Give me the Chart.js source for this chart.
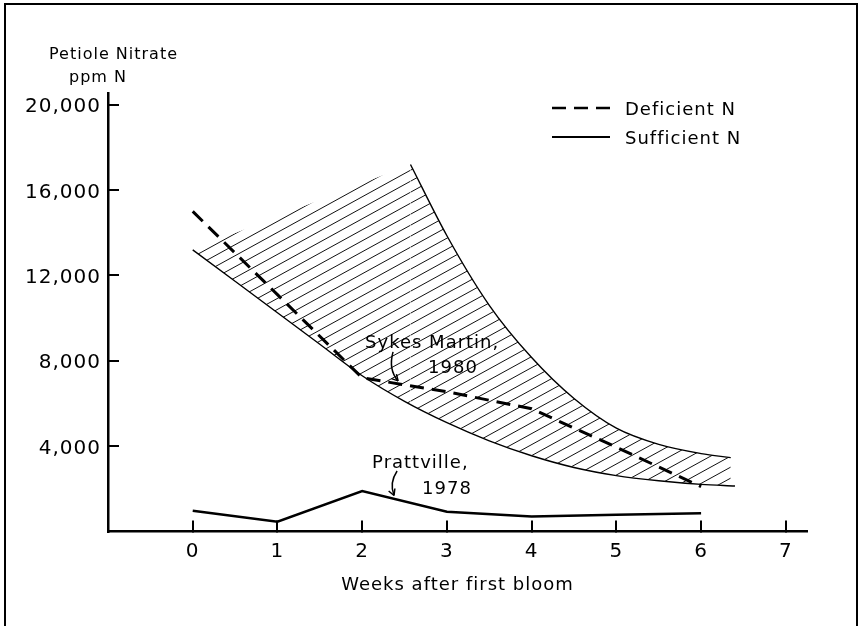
<!DOCTYPE html>
<html>
<head>
<meta charset="utf-8">
<script src="https://cdn.jsdelivr.net/npm/chart.js@4.4.1/dist/chart.umd.min.js"></script>
<style>
  html, body { margin: 0; padding: 0; background: #fff; }
  #wrap { width: 861px; height: 626px; position: relative; }
</style>
</head>
<body>
<div id="wrap"><canvas id="chart"></canvas></div>
<script>
// weeks after first bloom
const weeks = [0, 1, 2, 3, 4, 5, 6];
const deficientN = [15000, 11100, 7200, 6550, 5750, 3950, 2100];  // Sykes Martin, 1980
const sufficientN = [970, 460, 1900, 930, 700, 790, 850];         // Prattville, 1978

// hatched band
const bandLowWeeks = [0, 0.5, 1, 1.5, 2, 2.5, 3, 3.5, 4, 4.5, 5, 5.5, 6, 6.4];
const bandLowPpm = [13200, 11725, 10250, 8775, 7300, 6100, 5100, 4250, 3550, 3000, 2620, 2380, 2210, 2130];
const bandHighWeeks = [2.57, 3, 3.5, 4, 4.5, 5, 5.5, 6, 6.35];
const bandHighPpm = [17200, 13860, 10600, 8150, 6230, 4840, 4080, 3650, 3460];
const bandEdgeWeeks = [0, 2.57];
const bandEdgePpm = [13200, 17200];

const xTicks = [0, 1, 2, 3, 4, 5, 6, 7];
const yTicks = [4000, 8000, 12000, 16000, 20000];
const yTickLabels = ["4,000", "8,000", "12,000", "16,000", "20,000"];

const notes = [
  { text: "Sykes Martin,", week: 2.034, ppm: 8605 },
  { text: "1980", week: 2.778, ppm: 7447 },
  { text: "Prattville,", week: 2.117, ppm: 2964 },
  { text: "1978", week: 2.707, ppm: 1758 }
];
// start, bend, tip
const arrows = [
  [[2.364, 8417], [2.306, 7573], [2.424, 7057]],
  [[2.412, 2837], [2.317, 2274], [2.376, 1688]]
];

const pts = (xs, ys) => xs.map((x, i) => ({ x: x, y: ys[i] }));

function hatch(){
  const c = document.createElement("canvas");
  c.width = 20; c.height = 11;
  const g = c.getContext("2d");
  g.strokeStyle = "#111";
  g.lineWidth = 1;
  g.beginPath();
  [-1, 0, 1].forEach(k => { g.moveTo(-2, 11 + 1.1 + k * 11); g.lineTo(22, -1.1 + k * 11); });
  g.stroke();
  return g.createPattern(c, "repeat");
}

Chart.defaults.font.family = "'DejaVu Sans', sans-serif";
Chart.defaults.color = "#000";

/* frame + spacing of the lettering */
const framePlugin = {
  id: "frame",
  beforeDraw(chart){
    const ctx = chart.ctx;
    ctx.save();
    ctx.fillStyle = "#fff";
    ctx.fillRect(0, 0, chart.width, chart.height);
    ctx.strokeStyle = "#000";
    ctx.lineWidth = 2;
    ctx.beginPath();
    ctx.moveTo(5, chart.height + 5);
    ctx.lineTo(5, 4);
    ctx.lineTo(857, 4);
    ctx.lineTo(857, chart.height + 5);
    ctx.stroke();
    ctx.restore();
    ctx.letterSpacing = "1px";
  }
};

/* axis caption, legend, labels with arrows */
const notesPlugin = {
  id: "notes",
  afterDraw(chart){
    const ctx = chart.ctx;
    const xs = chart.scales.x, ys = chart.scales.y;
    const top = chart.chartArea.top;
    ctx.save();
    ctx.fillStyle = "#000";
    ctx.textAlign = "left";
    ctx.textBaseline = "alphabetic";

    ctx.font = "16px 'DejaVu Sans'";
    ctx.fillText("Petiole Nitrate", 49, top - 34);
    ctx.fillText("ppm N", 69, top - 11);

    // legend
    ctx.font = "18px 'DejaVu Sans'";
    chart.data.datasets.filter(d => d.inLegend).forEach((d, n) => {
      const y = 108 + n * 29;
      ctx.save();
      ctx.strokeStyle = d.borderColor;
      ctx.lineWidth = d.borderWidth - 0.5;
      ctx.setLineDash(d.borderDash || []);
      ctx.beginPath();
      ctx.moveTo(552, y);
      ctx.lineTo(610, y);
      ctx.stroke();
      ctx.restore();
      ctx.fillText(d.label, 625, y + 7);
    });

    notes.forEach(n => {
      ctx.fillText(n.text, xs.getPixelForValue(n.week), ys.getPixelForValue(n.ppm));
    });

    ctx.strokeStyle = "#000";
    ctx.lineWidth = 1.5;
    arrows.forEach(a => {
      const p = a.map(q => [xs.getPixelForValue(q[0]), ys.getPixelForValue(q[1])]);
      ctx.beginPath();
      ctx.moveTo(p[0][0], p[0][1]);
      ctx.quadraticCurveTo(p[1][0], p[1][1], p[2][0], p[2][1]);
      ctx.stroke();
      const ang = Math.atan2(p[2][1] - p[1][1], p[2][0] - p[1][0]);
      ctx.beginPath();
      [-0.5, 0.5].forEach(s => {
        ctx.moveTo(p[2][0], p[2][1]);
        ctx.lineTo(p[2][0] - 7 * Math.cos(ang + s), p[2][1] - 7 * Math.sin(ang + s));
      });
      ctx.stroke();
    });
    ctx.restore();
  }
};

const pattern = hatch();
const axisGrid = { drawOnChartArea: false, drawTicks: true, tickLength: -11, lineWidth: 2, color: "#000" };
const axisBorder = { display: true, color: "#000", width: 2.5 };

new Chart(document.getElementById("chart"), {
  type: "line",
  data: {
    datasets: [
      {
        label: "Deficient N", inLegend: true,
        data: pts(weeks, deficientN),
        borderColor: "#000", borderWidth: 3, borderDash: [14, 8],
        fill: false, tension: 0
      },
      {
        label: "Sufficient N", inLegend: true,
        data: pts(weeks, sufficientN),
        borderColor: "#000", borderWidth: 2.5,
        fill: false, tension: 0
      },
      {
        label: "band high",
        data: pts(bandHighWeeks, bandHighPpm),
        borderColor: "#000", borderWidth: 1.4,
        cubicInterpolationMode: "monotone",
        fill: 3, backgroundColor: pattern
      },
      {
        label: "band low",
        data: pts(bandLowWeeks, bandLowPpm),
        borderColor: "#000", borderWidth: 1.4,
        cubicInterpolationMode: "monotone",
        fill: false
      },
      {
        label: "band edge",
        data: pts(bandEdgeWeeks, bandEdgePpm),
        borderColor: "rgba(0,0,0,0)", borderWidth: 0,
        fill: 3, backgroundColor: pattern
      }
    ]
  },
  options: {
    responsive: true,
    maintainAspectRatio: false,
    animation: false,
    layout: { padding: { left: 0, right: 54, top: 93, bottom: 0 } },
    elements: { point: { radius: 0 } },
    plugins: { legend: { display: false }, tooltip: { enabled: false } },
    scales: {
      x: {
        type: "linear", min: -1, max: 7.25,
        afterBuildTicks: s => { s.ticks = xTicks.map(v => ({ value: v })); },
        afterFit: s => { s.height = 94.5; },
        grid: axisGrid,
        border: axisBorder,
        ticks: { padding: 19, font: { size: 20 }, color: "#000", maxRotation: 0, autoSkip: false,
                 callback: v => String(v) },
        title: { display: true, text: "Weeks after first bloom", font: { size: 18 }, color: "#000",
                 padding: { top: 0, bottom: 30 } }
      },
      y: {
        min: 0, max: 20550,
        afterBuildTicks: s => { s.ticks = yTicks.map(v => ({ value: v })); },
        afterFit: s => { s.width = 108; },
        grid: axisGrid,
        border: axisBorder,
        ticks: { padding: 18, labelOffset: 2.5, font: { size: 20 }, color: "#000", autoSkip: false,
                 callback: (v, i) => yTickLabels[i] }
      }
    }
  },
  plugins: [framePlugin, notesPlugin]
});
</script>
</body>
</html>
